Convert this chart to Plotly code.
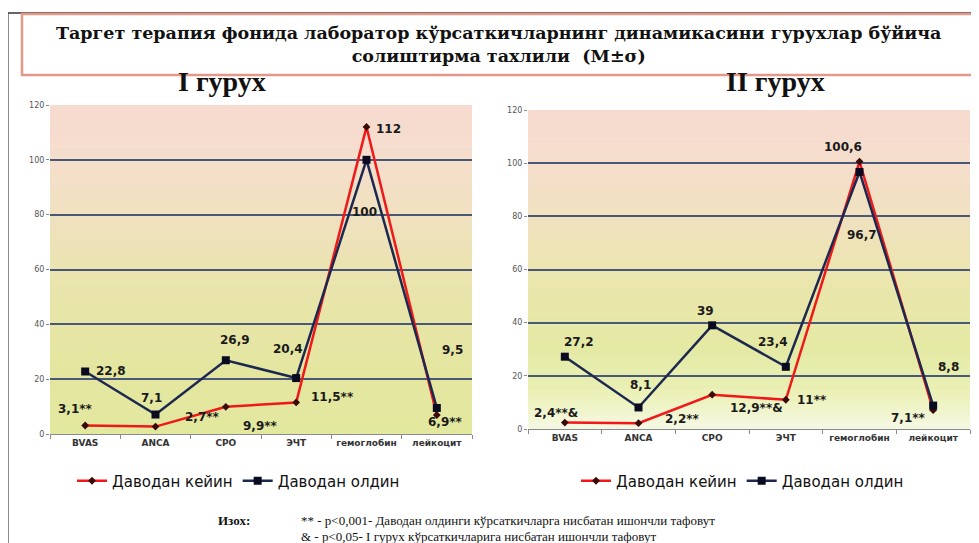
import plotly.graph_objects as go

# ---------------- data ----------------
categories = ["BVAS", "ANCA", "СРО", "ЭЧТ", "гемоглобин", "лейкоцит"]

g1_after = [3.1, 2.7, 9.9, 11.5, 112, 6.9]
g1_before = [22.8, 7.1, 26.9, 20.4, 100, 9.5]
g1_after_labels = ["3,1**", "2,7**", "9,9**", "11,5**", "112", "6,9**"]
g1_before_labels = ["22,8", "7,1", "26,9", "20,4", "100", "9,5"]

g2_after = [2.4, 2.2, 12.9, 11, 100.6, 7.1]
g2_before = [27.2, 8.1, 39, 23.4, 96.7, 8.8]
g2_after_labels = ["2,4**&", "2,2**", "12,9**&", "11**", "100,6", "7,1**"]
g2_before_labels = ["27,2", "8,1", "39", "23,4", "96,7", "8,8"]

series_names = ["Даводан кейин", "Даводан олдин"]
y_ticks = [0, 20, 40, 60, 80, 100, 120]

title_text = ("Таргет терапия фонида лаборатор кўрсаткичларнинг динамикасини гурухлар бўйича"
              "<br>солиштирма тахлили  (M±σ)")
panel_titles = ["I гурух", "II гурух"]
note_lines = ["** - p<0,001- Даводан олдинги кўрсаткичларга нисбатан ишончли тафовут",
              "& - p<0,05- I гурух кўрсаткичларига нисбатан ишончли тафовут"]

# ---------------- label offsets (pixels: dx right, dy down) ----------------
g1_after_off = [(-10, -17), (47, -10), (35, 19), (36, -5), (22, 2), (9, 7)]
g1_before_off = [(26, 0), (-4, -17), (9, -20), (-8, -29), (-2, 52), (16, -58)]
g2_after_off = [(-9, -10), (44, -4), (44, 13), (26, 0), (-17, -15), (-25, 8)]
g2_before_off = [(14, -15), (2, -22), (-7, -14), (-13, -25), (2, 63), (15, -39)]

W, H = 979, 543
OFF = 8  # page body margin of the browser
RED = "#f01818"
NAVY = "#1c2850"


def px(x):
    return (x - OFF) / W


def py(y):
    return 1 - (y - OFF) / H


fig = go.Figure()


def add_panel(xa, ya, after, before, legend, after_lab, before_lab, aoff, boff):
    fig.add_trace(go.Scatter(
        x=categories, y=after, name=series_names[0], mode="lines+markers",
        line=dict(color=RED, width=2.5),
        marker=dict(symbol="diamond", size=6, color="#3a0a0a"),
        xaxis=xa, yaxis=ya, legend=legend, showlegend=True))
    fig.add_trace(go.Scatter(
        x=categories, y=before, name=series_names[1], mode="lines+markers",
        line=dict(color=NAVY, width=2.5),
        marker=dict(symbol="square", size=8, color="#0a0a20"),
        xaxis=xa, yaxis=ya, legend=legend, showlegend=True))
    for vals, labs, offs in ((after, after_lab, aoff), (before, before_lab, boff)):
        for c, v, t, (dx, dy) in zip(categories, vals, labs, offs):
            fig.add_annotation(x=c, y=v, xref=xa, yref=ya, text="<b>" + t + "</b>",
                               showarrow=False, xshift=dx, yshift=-dy,
                               font=dict(family="DejaVu Sans", size=12, color="#1a1a1a"))


add_panel("x", "y", g1_after, g1_before, "legend",
          g1_after_labels, g1_before_labels, g1_after_off, g1_before_off)
add_panel("x2", "y2", g2_after, g2_before, "legend2",
          g2_after_labels, g2_before_labels, g2_after_off, g2_before_off)

# panel geometry (pixels in the screenshot)
L1 = (50, 472, 105, 434)   # left, right, top(120), bottom(0)
L2 = (528, 970, 110, 429)


def dom_x(p):
    return [px(p[0]), px(p[1])]


def dom_y(p):
    return [py(p[3]), py(p[2])]


xcommon = dict(type="category", range=[-0.5, 5.5], showline=True, linecolor="#8a8a8a",
               linewidth=1, ticks="outside", tickson="boundaries", ticklen=4,
               tickcolor="#8a8a8a", showgrid=False, automargin=False,
               tickfont=dict(family="DejaVu Sans", size=9, color="#333333", weight="bold"))
ycommon = dict(range=[0, 120], tickvals=y_ticks, showgrid=True, gridcolor="#4a5878",
               gridwidth=1.5, zeroline=False, ticks="outside", ticklen=3,
               tickcolor="#8a8a8a", showline=False, automargin=False,
               tickfont=dict(family="DejaVu Sans", size=8, color="#555555"))

fig.update_layout(
    width=W, height=H, margin=dict(l=0, r=0, t=0, b=0, pad=0, autoexpand=False),
    paper_bgcolor="white", plot_bgcolor="rgba(0,0,0,0)",
    xaxis=dict(domain=dom_x(L1), anchor="y", **xcommon),
    yaxis=dict(domain=dom_y(L1), anchor="x", **ycommon),
    xaxis2=dict(domain=dom_x(L2), anchor="y2", **xcommon),
    yaxis2=dict(domain=dom_y(L2), anchor="x2", **ycommon),
    legend=dict(orientation="h", x=px(72), y=py(481), xanchor="left", yanchor="middle",
                font=dict(family="DejaVu Sans", size=15, color="#111111"),
                bgcolor="rgba(0,0,0,0)", itemwidth=30, tracegroupgap=0),
    legend2=dict(orientation="h", x=px(576), y=py(481), xanchor="left", yanchor="middle",
                 font=dict(family="DejaVu Sans", size=15, color="#111111"),
                 bgcolor="rgba(0,0,0,0)", itemwidth=30, tracegroupgap=0),
)

# ---------------- gradient backgrounds ----------------


def lerp(c1, c2, t):
    return tuple(int(round(a + (b - a) * t)) for a, b in zip(c1, c2))


def grad_color(stops, f):
    for (f1, c1), (f2, c2) in zip(stops, stops[1:]):
        if f1 <= f <= f2:
            return lerp(c1, c2, (f - f1) / (f2 - f1) if f2 > f1 else 0)
    return stops[-1][1]


stops1 = [(0.0, (247, 218, 208)), (0.17, (245, 222, 204)), (0.35, (240, 225, 190)),
          (0.55, (233, 228, 172)), (0.8, (228, 230, 160)), (1.0, (226, 232, 158))]
stops2 = [(0.0, (247, 218, 208)), (0.17, (245, 222, 204)), (0.35, (240, 225, 190)),
          (0.55, (234, 230, 172)), (0.75, (228, 234, 164)), (0.88, (234, 240, 180)),
          (1.0, (246, 249, 228))]

shapes = []
N = 48
for xr, yr, stops in (("x domain", "y domain", stops1), ("x2 domain", "y2 domain", stops2)):
    for i in range(N):
        f = (i + 0.5) / N
        c = grad_color(stops, f)
        shapes.append(dict(type="rect", xref=xr, yref=yr, x0=0, x1=1,
                           y0=max(0, 1 - (i + 1) / N - 0.002), y1=1 - i / N,
                           fillcolor="rgb(%d,%d,%d)" % c, line=dict(width=0), layer="below"))

# frame lines and title box
shapes.append(dict(type="line", xref="paper", yref="paper", x0=px(8), x1=px(8),
                   y0=0, y1=py(13), line=dict(color="#8c8c8c", width=2)))
shapes.append(dict(type="line", xref="paper", yref="paper", x0=px(8), x1=1,
                   y0=py(13), y1=py(13), line=dict(color="#333333", width=1.5)))
shapes.append(dict(type="rect", xref="paper", yref="paper", x0=px(22), x1=px(975),
                   y0=py(75), y1=py(14), line=dict(color="#e49888", width=2.5),
                   fillcolor="rgba(0,0,0,0)"))
fig.update_layout(shapes=shapes)

# ---------------- texts ----------------
fig.add_annotation(x=px((22 + 975) / 2), y=py(44), xref="paper", yref="paper",
                   text="<b>" + title_text + "</b>", showarrow=False,
                   font=dict(family="DejaVu Serif", size=17.5, color="#111111"),
                   xanchor="center", yanchor="middle")
fig.add_annotation(x=px(222), y=py(81), xref="paper", yref="paper",
                   text="<b>" + panel_titles[0] + "</b>", showarrow=False,
                   font=dict(family="Liberation Serif", size=28, color="#111111"),
                   xanchor="center", yanchor="middle")
fig.add_annotation(x=px(775), y=py(81), xref="paper", yref="paper",
                   text="<b>" + panel_titles[1] + "</b>", showarrow=False,
                   font=dict(family="Liberation Serif", size=28, color="#111111"),
                   xanchor="center", yanchor="middle")
fig.add_annotation(x=px(216), y=py(520), xref="paper", yref="paper",
                   text="<b>Изох:</b>", showarrow=False,
                   font=dict(family="Liberation Serif", size=13, color="#111111"),
                   xanchor="left", yanchor="middle")
for i, line in enumerate(note_lines):
    fig.add_annotation(x=px(299), y=py(520 + 16 * i), xref="paper", yref="paper",
                       text=line, showarrow=False,
                       font=dict(family="Liberation Serif", size=13, color="#111111"),
                       xanchor="left", yanchor="middle")

fig.write_html("out.html")
